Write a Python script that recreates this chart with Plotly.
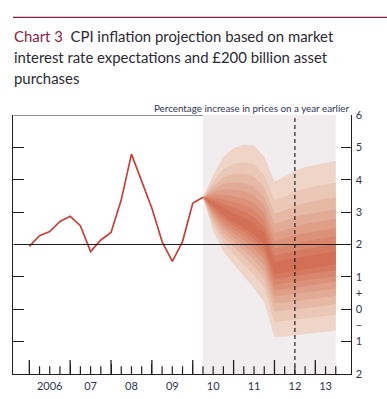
import plotly.graph_objects as go

# ---------------- data ----------------
cpi_quarters = ["2006Q1", "2006Q2", "2006Q3", "2006Q4",
                "2007Q1", "2007Q2", "2007Q3", "2007Q4",
                "2008Q1", "2008Q2", "2008Q3", "2008Q4",
                "2009Q1", "2009Q2", "2009Q3", "2009Q4",
                "2010Q1", "2010Q2"]
cpi_values = [1.94, 2.27, 2.40, 2.71, 2.87, 2.58, 1.78, 2.14, 2.37,
              3.38, 4.79, 3.94, 3.12, 2.09, 1.48, 2.09, 3.27, 3.46]

fan_quarters = ["2010Q2", "2010Q3", "2010Q4", "2011Q1", "2011Q2", "2011Q3",
                "2011Q4", "2012Q1", "2012Q2", "2012Q3", "2012Q4", "2013Q1",
                "2013Q2", "2013Q3"]
# band boundaries (percentiles of the projection)
p95 = [3.46, 4.15, 4.70, 4.98, 5.08, 5.05, 4.72, 3.94, 4.10, 4.28, 4.39, 4.46, 4.53, 4.58]
p90 = [3.46, 3.95, 4.32, 4.50, 4.54, 4.48, 4.15, 3.35, 3.48, 3.63, 3.73, 3.80, 3.86, 3.91]
p85 = [3.46, 3.82, 4.07, 4.17, 4.18, 4.09, 3.77, 2.95, 3.06, 3.20, 3.28, 3.35, 3.41, 3.46]
p80 = [3.46, 3.71, 3.87, 3.92, 3.89, 3.78, 3.47, 2.63, 2.73, 2.85, 2.93, 2.99, 3.05, 3.10]
p75 = [3.46, 3.62, 3.70, 3.69, 3.65, 3.52, 3.20, 2.35, 2.45, 2.55, 2.63, 2.68, 2.74, 2.79]
p70 = [3.46, 3.54, 3.54, 3.50, 3.43, 3.28, 2.97, 2.11, 2.19, 2.29, 2.35, 2.41, 2.47, 2.52]
p65 = [3.46, 3.46, 3.40, 3.31, 3.22, 3.06, 2.75, 1.88, 1.96, 2.04, 2.10, 2.15, 2.21, 2.26]
p60 = [3.46, 3.39, 3.26, 3.14, 3.02, 2.85, 2.55, 1.66, 1.73, 1.80, 1.86, 1.91, 1.97, 2.02]
p55 = [3.46, 3.32, 3.13, 2.97, 2.84, 2.65, 2.35, 1.46, 1.52, 1.58, 1.63, 1.68, 1.73, 1.78]
p45 = [3.46, 3.18, 2.91, 2.69, 2.52, 2.31, 2.00, 1.09, 1.14, 1.18, 1.23, 1.28, 1.33, 1.38]
p40 = [3.46, 3.12, 2.81, 2.58, 2.40, 2.17, 1.85, 0.93, 0.97, 1.02, 1.07, 1.11, 1.16, 1.21]
p35 = [3.46, 3.05, 2.71, 2.47, 2.27, 2.03, 1.70, 0.76, 0.80, 0.85, 0.89, 0.94, 0.99, 1.03]
p30 = [3.46, 2.98, 2.61, 2.35, 2.13, 1.88, 1.53, 0.58, 0.62, 0.66, 0.71, 0.75, 0.80, 0.85]
p25 = [3.46, 2.90, 2.50, 2.22, 1.98, 1.71, 1.36, 0.39, 0.42, 0.46, 0.51, 0.56, 0.60, 0.64]
p20 = [3.46, 2.81, 2.38, 2.08, 1.81, 1.53, 1.16, 0.18, 0.20, 0.24, 0.29, 0.33, 0.37, 0.42]
p15 = [3.46, 2.71, 2.23, 1.91, 1.62, 1.32, 0.93, -0.07, -0.05, -0.01, 0.03, 0.08, 0.11, 0.16]
p10 = [3.46, 2.59, 2.05, 1.70, 1.37, 1.05, 0.65, -0.39, -0.37, -0.33, -0.29, -0.25, -0.21, -0.17]
p05 = [3.46, 2.40, 1.78, 1.39, 1.01, 0.65, 0.22, -0.85, -0.84, -0.81, -0.77, -0.73, -0.70, -0.66]

inflation_target = 2
horizon_quarter = "2012Q3"
year_labels = ["2006", "07", "08", "09", "10", "11", "12", "13"]
right_tick_labels = ["6", "5", "4", "3", "2", "1", "+", "0", "\u2212", "1", "2"]
right_tick_values = [6, 5, 4, 3, 2, 1, 0.5, 0, -0.5, -1, -2]

# ---------------- styling ----------------
W, H = 387, 399
INK = "#231f20"
LABEL = "#2e3550"
MAROON = "#8c1d40"
LINE_RED = "#c8403a"
BG_SHADE = "#f1eced"
shades = ["#eed5c7", "#eac7b6", "#e6b9a6", "#e2ab96", "#df9e87",
          "#dc9279", "#d9866c", "#d57a60", "#d26f55"]
FONT = "Lato, 'Open Sans', sans-serif"


def qpos(q):
    y, n = q.split("Q")
    return int(y) + (int(n) - 1) / 4.0


cx = [qpos(q) for q in cpi_quarters]
fx = [qpos(q) for q in fan_quarters]
x_range = [2005.608, 2013.866]
y_range = [-2, 6]

uppers = [p55, p60, p65, p70, p75, p80, p85, p90, p95]
lowers = [p45, p40, p35, p30, p25, p20, p15, p10, p05]

years = list(range(2006, 2014))
quarter_ticks = [y + q / 4 for y in years for q in (1, 2, 3) if y + q / 4 <= fx[-1]]
label_pos = [y + 0.5 for y in years[:-1]] + [(years[-1] + fx[-1]) / 2]

fig = go.Figure()

# shaded projection period (drawn first, as a filled trace)
fig.add_trace(go.Scatter(
    x=[fx[0], fx[-1], fx[-1], fx[0]], y=[y_range[0], y_range[0], y_range[1], y_range[1]],
    fill="toself", fillcolor=BG_SHADE, line=dict(width=0), mode="lines",
    hoverinfo="skip", showlegend=False))

# fan bands, outermost first
for k in range(9):
    up = uppers[8 - k]
    lo = lowers[8 - k]
    fig.add_trace(go.Scatter(
        x=fx + fx[::-1], y=up + lo[::-1], fill="toself",
        fillcolor=shades[k], line=dict(width=0), mode="lines",
        hoverinfo="skip", showlegend=False))

fig.add_trace(go.Scatter(x=cx, y=cpi_values, mode="lines",
                         line=dict(color=LINE_RED, width=1.7),
                         showlegend=False, hoverinfo="skip"))

# time-axis tick marks rising from the baseline (lower half clipped by the plot area)
fig.add_trace(go.Scatter(x=years, y=[y_range[0]] * len(years), mode="markers",
                         marker=dict(symbol="line-ns", size=20,
                                     line=dict(color=INK, width=1.3)),
                         cliponaxis=True, showlegend=False, hoverinfo="skip"))
fig.add_trace(go.Scatter(x=quarter_ticks, y=[y_range[0]] * len(quarter_ticks), mode="markers",
                         marker=dict(symbol="line-ns", size=11,
                                     line=dict(color=INK, width=1.2)),
                         cliponaxis=True, showlegend=False, hoverinfo="skip"))

# invisible helper traces so overlaying axes render
for xa, ya in (("x2", "y"), ("x", "y2"), ("x", "y3")):
    fig.add_trace(go.Scatter(x=[x_range[0]], y=[y_range[0]], xaxis=xa, yaxis=ya,
                             mode="markers", marker=dict(opacity=0),
                             showlegend=False, hoverinfo="skip"))

dom_x = [13.3 / W, 350.7 / W]
dom_y = [(H - 374) / H, (H - 115) / H]

fig.update_layout(
    width=W, height=H, margin=dict(l=0, r=0, t=0, b=0, autoexpand=False),
    paper_bgcolor="white", plot_bgcolor="rgba(0,0,0,0)",
    font=dict(family=FONT, color=LABEL),
    # main x axis: baseline and year labels
    xaxis=dict(range=x_range, domain=dom_x, showgrid=False, zeroline=False,
               automargin=False,
               showline=True, linecolor=INK, linewidth=1.2,
               ticks="", tickvals=label_pos, ticktext=year_labels,
               ticklabelstandoff=2, tickfont=dict(size=11, color=LABEL)),
    # overlay x axis: year tick marks
    xaxis2=dict(range=x_range, overlaying="x", side="bottom", anchor="y",
                automargin=False, showgrid=False, zeroline=False, showline=False,
                ticks="inside", tickmode="array", tickvals=years, ticklen=10,
                tickwidth=1.3, tickcolor=INK, showticklabels=False),
    yaxis=dict(range=y_range, domain=dom_y, showgrid=False, zeroline=False,
               automargin=False,
               showline=True, linecolor=INK, linewidth=1.2,
               ticks="inside", tickvals=[5, 4, 3, 1, 0, -1], ticklen=11,
               tickwidth=1.2, tickcolor=INK, showticklabels=False),
    yaxis2=dict(range=y_range, overlaying="y", side="right", anchor="x",
                automargin=False,
                showgrid=False, zeroline=False, showline=True, linecolor=INK,
                linewidth=1.2, ticks="inside", tickvals=[5, 4, 3, 2, 1, 0, -1],
                ticklen=10, tickwidth=1.2, tickcolor=INK, showticklabels=False),
    yaxis3=dict(range=y_range, overlaying="y", side="right", anchor="x",
                automargin=False,
                showgrid=False, zeroline=False, showline=False, ticks="",
                tickvals=right_tick_values, ticktext=right_tick_labels,
                ticklabelstandoff=4,
                tickfont=dict(size=11, color=LABEL)),
)

shapes = [
    # top border over the outturn period
    dict(type="line", xref="x", yref="y", x0=x_range[0], x1=fx[0], y0=y_range[1], y1=y_range[1],
         line=dict(color=INK, width=1.2), layer="above"),
    # inflation target
    dict(type="line", xref="x", yref="y", x0=x_range[0], x1=x_range[1],
         y0=inflation_target, y1=inflation_target,
         line=dict(color=INK, width=1.2), layer="above"),
    # two-year horizon
    dict(type="line", xref="x", yref="y", x0=qpos(horizon_quarter), x1=qpos(horizon_quarter),
         y0=y_range[0], y1=y_range[1],
         line=dict(color=INK, width=1.2, dash="4px,3px"), layer="above"),
    # rule above title
    dict(type="line", xref="paper", yref="paper", x0=13 / W, x1=1.0,
         y0=1 - 17.3 / H, y1=1 - 17.3 / H, line=dict(color=MAROON, width=1.2)),
]
fig.update_layout(shapes=shapes)

title_lines = [
    "<span style='color:%s'>Chart 3</span>\u00a0\u00a0CPI inflation projection based on market" % MAROON,
    "interest rate expectations and \u00a3200 billion asset",
    "purchases",
]
title_y = [36, 57, 78]
annotations = []
for txt, ty in zip(title_lines, title_y):
    annotations.append(dict(text=txt, xref="paper", yref="paper", x=12 / W, y=1 - ty / H,
                            xanchor="left", yanchor="middle", showarrow=False,
                            font=dict(size=14.9, color="#2a2a35", family=FONT)))
annotations.append(dict(text="Percentage increase in prices on a year earlier",
                        xref="paper", yref="paper", x=351 / W, y=1 - 108.5 / H,
                        xanchor="right", yanchor="middle", showarrow=False,
                        font=dict(size=9.8, color=LABEL, family=FONT)))
fig.update_layout(annotations=annotations)

fig.write_html("out.html", config={"displayModeBar": False},
               post_script="document.body.style.margin='0';")
